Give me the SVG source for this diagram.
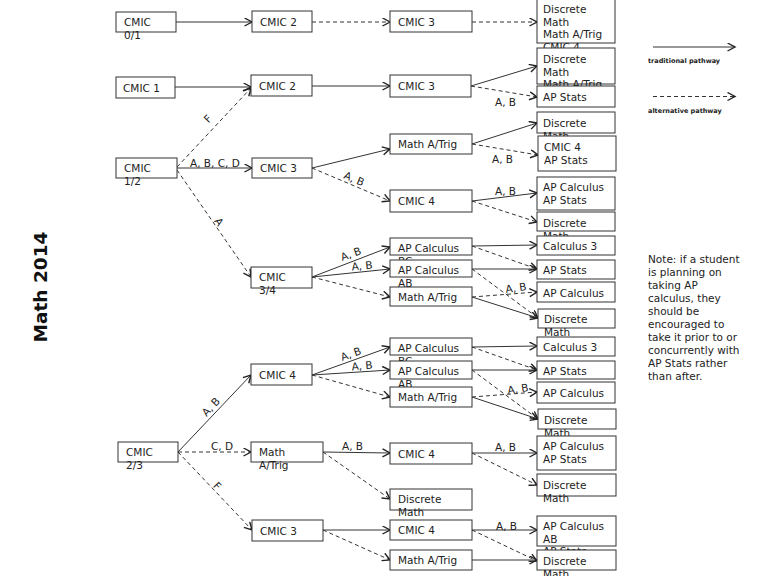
<svg xmlns="http://www.w3.org/2000/svg" width="768" height="576" viewBox="0 0 768 576">
<defs>
<style>
.box{fill:#fff;stroke:#333;stroke-width:1}
.t{font-family:"DejaVu Sans",sans-serif;font-size:10.5px;fill:#222}
.lg{font-family:"DejaVu Sans",sans-serif;font-size:6.5px;font-weight:bold;fill:#222}
.e{fill:none;stroke:#333;stroke-width:1;marker-end:url(#ah)}
.d{stroke-dasharray:4,3}
</style>
<marker id="ah" markerUnits="userSpaceOnUse" markerWidth="10" markerHeight="10" refX="8" refY="4.5" orient="auto">
<path d="M0.5,0.5 L8,4.5 L0.5,8.5" fill="none" stroke="#222" stroke-width="1.4"/>
</marker>
</defs>
<rect width="768" height="576" fill="#fff"/>
<text transform="translate(47,287) rotate(-90)" text-anchor="middle" font-family="DejaVu Sans,sans-serif" font-size="18.5" font-weight="bold" fill="#111">Math 2014</text>

<g id="connectors">
<path class="e" d="M176,22 L252,22"/>
<path class="e d" d="M312,22 L390,22"/>
<path class="e d" d="M472,22 L537,22"/>
<path class="e" d="M175,87 L251,87"/>
<path class="e" d="M312,86 L390,86"/>
<path class="e" d="M471,86 L537,66"/>
<path class="e d" d="M471,86 L537,97"/>
<path class="e d" d="M177,167 L251,88"/>
<path class="e" d="M177,168 L252,168"/>
<path class="e d" d="M177,170 L251,277"/>
<path class="e" d="M312,168 L390,149"/>
<path class="e d" d="M312,168 L390,201"/>
<path class="e" d="M472,144 L537,123"/>
<path class="e d" d="M472,144 L538,155"/>
<path class="e" d="M472,201 L537,193"/>
<path class="e d" d="M472,201 L537,222"/>
<path class="e" d="M312,277 L390,247"/>
<path class="e" d="M312,277 L390,269"/>
<path class="e d" d="M312,277 L390,297"/>
<path class="e" d="M472,246 L537,245"/>
<path class="e d" d="M472,246 L537,269"/>
<path class="e" d="M472,269 L537,269"/>
<path class="e d" d="M472,269 L538,318"/>
<path class="e d" d="M472,297 L537,292"/>
<path class="e" d="M472,297 L538,318"/>
<path class="e" d="M178,452 L251,375"/>
<path class="e d" d="M178,452 L251,452"/>
<path class="e d" d="M178,452 L252,530"/>
<path class="e" d="M312,375 L390,347"/>
<path class="e" d="M312,375 L390,370"/>
<path class="e d" d="M312,375 L390,397"/>
<path class="e" d="M472,347 L537,346"/>
<path class="e d" d="M472,347 L537,370"/>
<path class="e" d="M472,370 L537,370"/>
<path class="e d" d="M472,370 L538,419"/>
<path class="e d" d="M472,397 L537,392"/>
<path class="e" d="M472,397 L538,419"/>
<path class="e" d="M323,452 L390,453"/>
<path class="e d" d="M323,452 L390,499"/>
<path class="e" d="M472,453 L537,453"/>
<path class="e d" d="M472,453 L537,485"/>
<path class="e" d="M323,530 L390,530"/>
<path class="e d" d="M323,530 L390,560"/>
<path class="e" d="M472,530 L537,530"/>
<path class="e d" d="M472,530 L537,561"/>
<path class="e" d="M472,560 L537,560"/>
<!-- labels -->
<text class="t" x="495" y="106">A, B</text>
<text class="t" transform="translate(208,119) rotate(-47)" text-anchor="middle" y="3.5">F</text>
<text class="t" x="190" y="167">A, B, C, D</text>
<text class="t" transform="translate(219,222) rotate(55)" text-anchor="middle" y="3.5">A</text>
<text class="t" transform="translate(354,179) rotate(23)" text-anchor="middle" y="3.5">A, B</text>
<text class="t" x="492" y="163">A, B</text>
<text class="t" x="495" y="195">A, B</text>
<text class="t" transform="translate(351,254) rotate(-20)" text-anchor="middle" y="3.5">A, B</text>
<text class="t" transform="translate(362,266) rotate(-6)" text-anchor="middle" y="3.5">A, B</text>
<text class="t" transform="translate(516,288) rotate(-8)" text-anchor="middle" y="3.5">A, B</text>
<text class="t" transform="translate(351,354) rotate(-20)" text-anchor="middle" y="3.5">A, B</text>
<text class="t" transform="translate(362,366) rotate(-6)" text-anchor="middle" y="3.5">A, B</text>
<text class="t" transform="translate(518,389) rotate(-8)" text-anchor="middle" y="3.5">A, B</text>
<text class="t" transform="translate(211,407) rotate(-47)" text-anchor="middle" y="3.5">A, B</text>
<text class="t" x="211" y="449.5">C, D</text>
<text class="t" transform="translate(217,486) rotate(47)" text-anchor="middle" y="3.5">F</text>
<text class="t" x="342" y="450">A, B</text>
<text class="t" x="495" y="451">A, B</text>
<text class="t" x="496" y="529.5">A, B</text>
</g>

<!-- column 1 -->
<g id="n-cmic01"><rect class="box" x="116" y="12" width="60" height="20"/><text class="t" x="124" y="26">CMIC</text><text class="t" x="124" y="38.5">0/1</text></g>
<g id="n-cmic1"><rect class="box" x="116" y="77" width="59" height="21"/><text class="t" x="123" y="92">CMIC 1</text></g>
<g id="n-cmic12"><rect class="box" x="116" y="158" width="61" height="20"/><text class="t" x="124" y="172">CMIC</text><text class="t" x="124" y="184.5">1/2</text></g>
<g id="n-cmic23"><rect class="box" x="118" y="442" width="60" height="20"/><text class="t" x="126" y="456">CMIC</text><text class="t" x="126" y="468.5">2/3</text></g>

<!-- column 2 -->
<g id="n-c2-cmic2a"><rect class="box" x="252" y="11" width="60" height="21"/><text class="t" x="260" y="26">CMIC 2</text></g>
<g id="n-c2-cmic2b"><rect class="box" x="251" y="75" width="61" height="21"/><text class="t" x="259" y="90">CMIC 2</text></g>
<g id="n-c2-cmic3a"><rect class="box" x="252" y="158" width="60" height="20"/><text class="t" x="260" y="172">CMIC 3</text></g>
<g id="n-c2-cmic34"><rect class="box" x="251" y="267" width="61" height="21"/><text class="t" x="259" y="281">CMIC</text><text class="t" x="259" y="293.5">3/4</text></g>
<g id="n-c2-cmic4"><rect class="box" x="251" y="364" width="61" height="21"/><text class="t" x="259" y="379">CMIC 4</text></g>
<g id="n-c2-matrig"><rect class="box" x="251" y="442" width="72" height="20"/><text class="t" x="259" y="456">Math</text><text class="t" x="259" y="468.5">A/Trig</text></g>
<g id="n-c2-cmic3b"><rect class="box" x="252" y="520" width="71" height="21"/><text class="t" x="260" y="535">CMIC 3</text></g>

<!-- column 3 -->
<g id="n-c3-1"><rect class="box" x="390" y="11" width="82" height="21"/><text class="t" x="398" y="26">CMIC 3</text></g>
<g id="n-c3-2"><rect class="box" x="390" y="75" width="81" height="22"/><text class="t" x="398" y="90">CMIC 3</text></g>
<g id="n-c3-3"><rect class="box" x="390" y="134" width="82" height="20"/><text class="t" x="398" y="148">Math A/Trig</text></g>
<g id="n-c3-4"><rect class="box" x="390" y="190" width="82" height="22"/><text class="t" x="398" y="205">CMIC 4</text></g>
<g id="n-c3-5"><rect class="box" x="390" y="238" width="82" height="17"/><text class="t" x="398" y="252">AP Calculus</text><text class="t" x="398" y="264.5">BC</text></g>
<g id="n-c3-6"><rect class="box" x="390" y="260" width="82" height="17"/><text class="t" x="398" y="274">AP Calculus</text><text class="t" x="398" y="286.5">AB</text></g>
<g id="n-c3-7"><rect class="box" x="390" y="287" width="82" height="19"/><text class="t" x="398" y="301">Math A/Trig</text></g>
<g id="n-c3-8"><rect class="box" x="390" y="338" width="82" height="17"/><text class="t" x="398" y="352">AP Calculus</text><text class="t" x="398" y="364.5">BC</text></g>
<g id="n-c3-9"><rect class="box" x="390" y="361" width="82" height="18"/><text class="t" x="398" y="375">AP Calculus</text><text class="t" x="398" y="387.5">AB</text></g>
<g id="n-c3-10"><rect class="box" x="390" y="387" width="82" height="20"/><text class="t" x="398" y="401">Math A/Trig</text></g>
<g id="n-c3-11"><rect class="box" x="390" y="443" width="82" height="21"/><text class="t" x="398" y="458">CMIC 4</text></g>
<g id="n-c3-12"><rect class="box" x="390" y="489" width="82" height="21"/><text class="t" x="398" y="503">Discrete</text><text class="t" x="398" y="515.5">Math</text></g>
<g id="n-c3-13"><rect class="box" x="390" y="520" width="82" height="20"/><text class="t" x="398" y="534">CMIC 4</text></g>
<g id="n-c3-14"><rect class="box" x="390" y="550" width="82" height="20"/><text class="t" x="398" y="564">Math A/Trig</text></g>

<!-- column 4 -->
<g id="n-c4-1"><rect class="box" x="537" y="-1" width="78" height="44"/><text class="t" x="543" y="13">Discrete</text><text class="t" x="543" y="25.5">Math</text><text class="t" x="543" y="38">Math A/Trig</text><text class="t" x="543" y="50.5">CMIC 4</text></g>
<g id="n-c4-2"><rect class="box" x="537" y="48" width="78" height="36"/><text class="t" x="543" y="63">Discrete</text><text class="t" x="543" y="75.5">Math</text><text class="t" x="543" y="88">Math A/Trig</text></g>
<g id="n-c4-3"><rect class="box" x="537" y="86" width="78" height="21"/><text class="t" x="543" y="101">AP Stats</text></g>
<g id="n-c4-4"><rect class="box" x="537" y="112" width="78" height="21"/><text class="t" x="543" y="127">Discrete</text><text class="t" x="543" y="139.5">Math</text></g>
<g id="n-c4-5"><rect class="box" x="538" y="136" width="78" height="35"/><text class="t" x="544" y="151">CMIC 4</text><text class="t" x="544" y="163.5">AP Stats</text></g>
<g id="n-c4-6"><rect class="box" x="537" y="177" width="78" height="33"/><text class="t" x="543" y="191">AP Calculus</text><text class="t" x="543" y="203.5">AP Stats</text></g>
<g id="n-c4-7"><rect class="box" x="537" y="212" width="78" height="19"/><text class="t" x="543" y="227">Discrete</text><text class="t" x="543" y="239.5">Math</text></g>
<g id="n-c4-8"><rect class="box" x="537" y="236" width="78" height="19"/><text class="t" x="543" y="250">Calculus 3</text></g>
<g id="n-c4-9"><rect class="box" x="537" y="260" width="78" height="19"/><text class="t" x="543" y="274">AP Stats</text></g>
<g id="n-c4-10"><rect class="box" x="537" y="282" width="78" height="20"/><text class="t" x="543" y="297">AP Calculus</text></g>
<g id="n-c4-11"><rect class="box" x="538" y="309" width="77" height="19"/><text class="t" x="544" y="323">Discrete</text><text class="t" x="544" y="335.5">Math</text></g>
<g id="n-c4-12"><rect class="box" x="537" y="337" width="78" height="19"/><text class="t" x="543" y="351">Calculus 3</text></g>
<g id="n-c4-13"><rect class="box" x="537" y="361" width="78" height="18"/><text class="t" x="543" y="374.5">AP Stats</text></g>
<g id="n-c4-14"><rect class="box" x="537" y="382" width="78" height="21"/><text class="t" x="543" y="397">AP Calculus</text></g>
<g id="n-c4-15"><rect class="box" x="538" y="409" width="78" height="20"/><text class="t" x="544" y="424">Discrete</text><text class="t" x="544" y="436.5">Math</text></g>
<g id="n-c4-16"><rect class="box" x="537" y="436" width="79" height="34"/><text class="t" x="543" y="450">AP Calculus</text><text class="t" x="543" y="462.5">AP Stats</text></g>
<g id="n-c4-17"><rect class="box" x="537" y="474" width="79" height="22"/><text class="t" x="543" y="489">Discrete</text><text class="t" x="543" y="501.5">Math</text></g>
<g id="n-c4-18"><rect class="box" x="537" y="516" width="79" height="30"/><text class="t" x="543" y="530">AP Calculus</text><text class="t" x="543" y="542.5">AB</text><text class="t" x="543" y="555">AP Stats</text></g>
<g id="n-c4-19"><rect class="box" x="537" y="550" width="79" height="20"/><text class="t" x="543" y="565">Discrete</text><text class="t" x="543" y="577.5">Math</text></g>

<!-- legend -->
<g id="legend">
<path class="e" d="M653,47 L735,47"/>
<text class="lg" x="648" y="62.5">traditional pathway</text>
<path class="e d" d="M653,96.5 L735,96.5"/>
<text class="lg" x="648" y="113">alternative pathway</text>
</g>

<!-- note -->
<g id="note">
<text class="t" x="648" y="263">Note: if a student</text>
<text class="t" x="648" y="276">is planning on</text>
<text class="t" x="648" y="289">taking AP</text>
<text class="t" x="648" y="302">calculus, they</text>
<text class="t" x="648" y="315">should be</text>
<text class="t" x="648" y="328">encouraged to</text>
<text class="t" x="648" y="341">take it prior to or</text>
<text class="t" x="648" y="354">concurrently with</text>
<text class="t" x="648" y="367">AP Stats rather</text>
<text class="t" x="648" y="379.5">than after.</text>
</g>
</svg>
